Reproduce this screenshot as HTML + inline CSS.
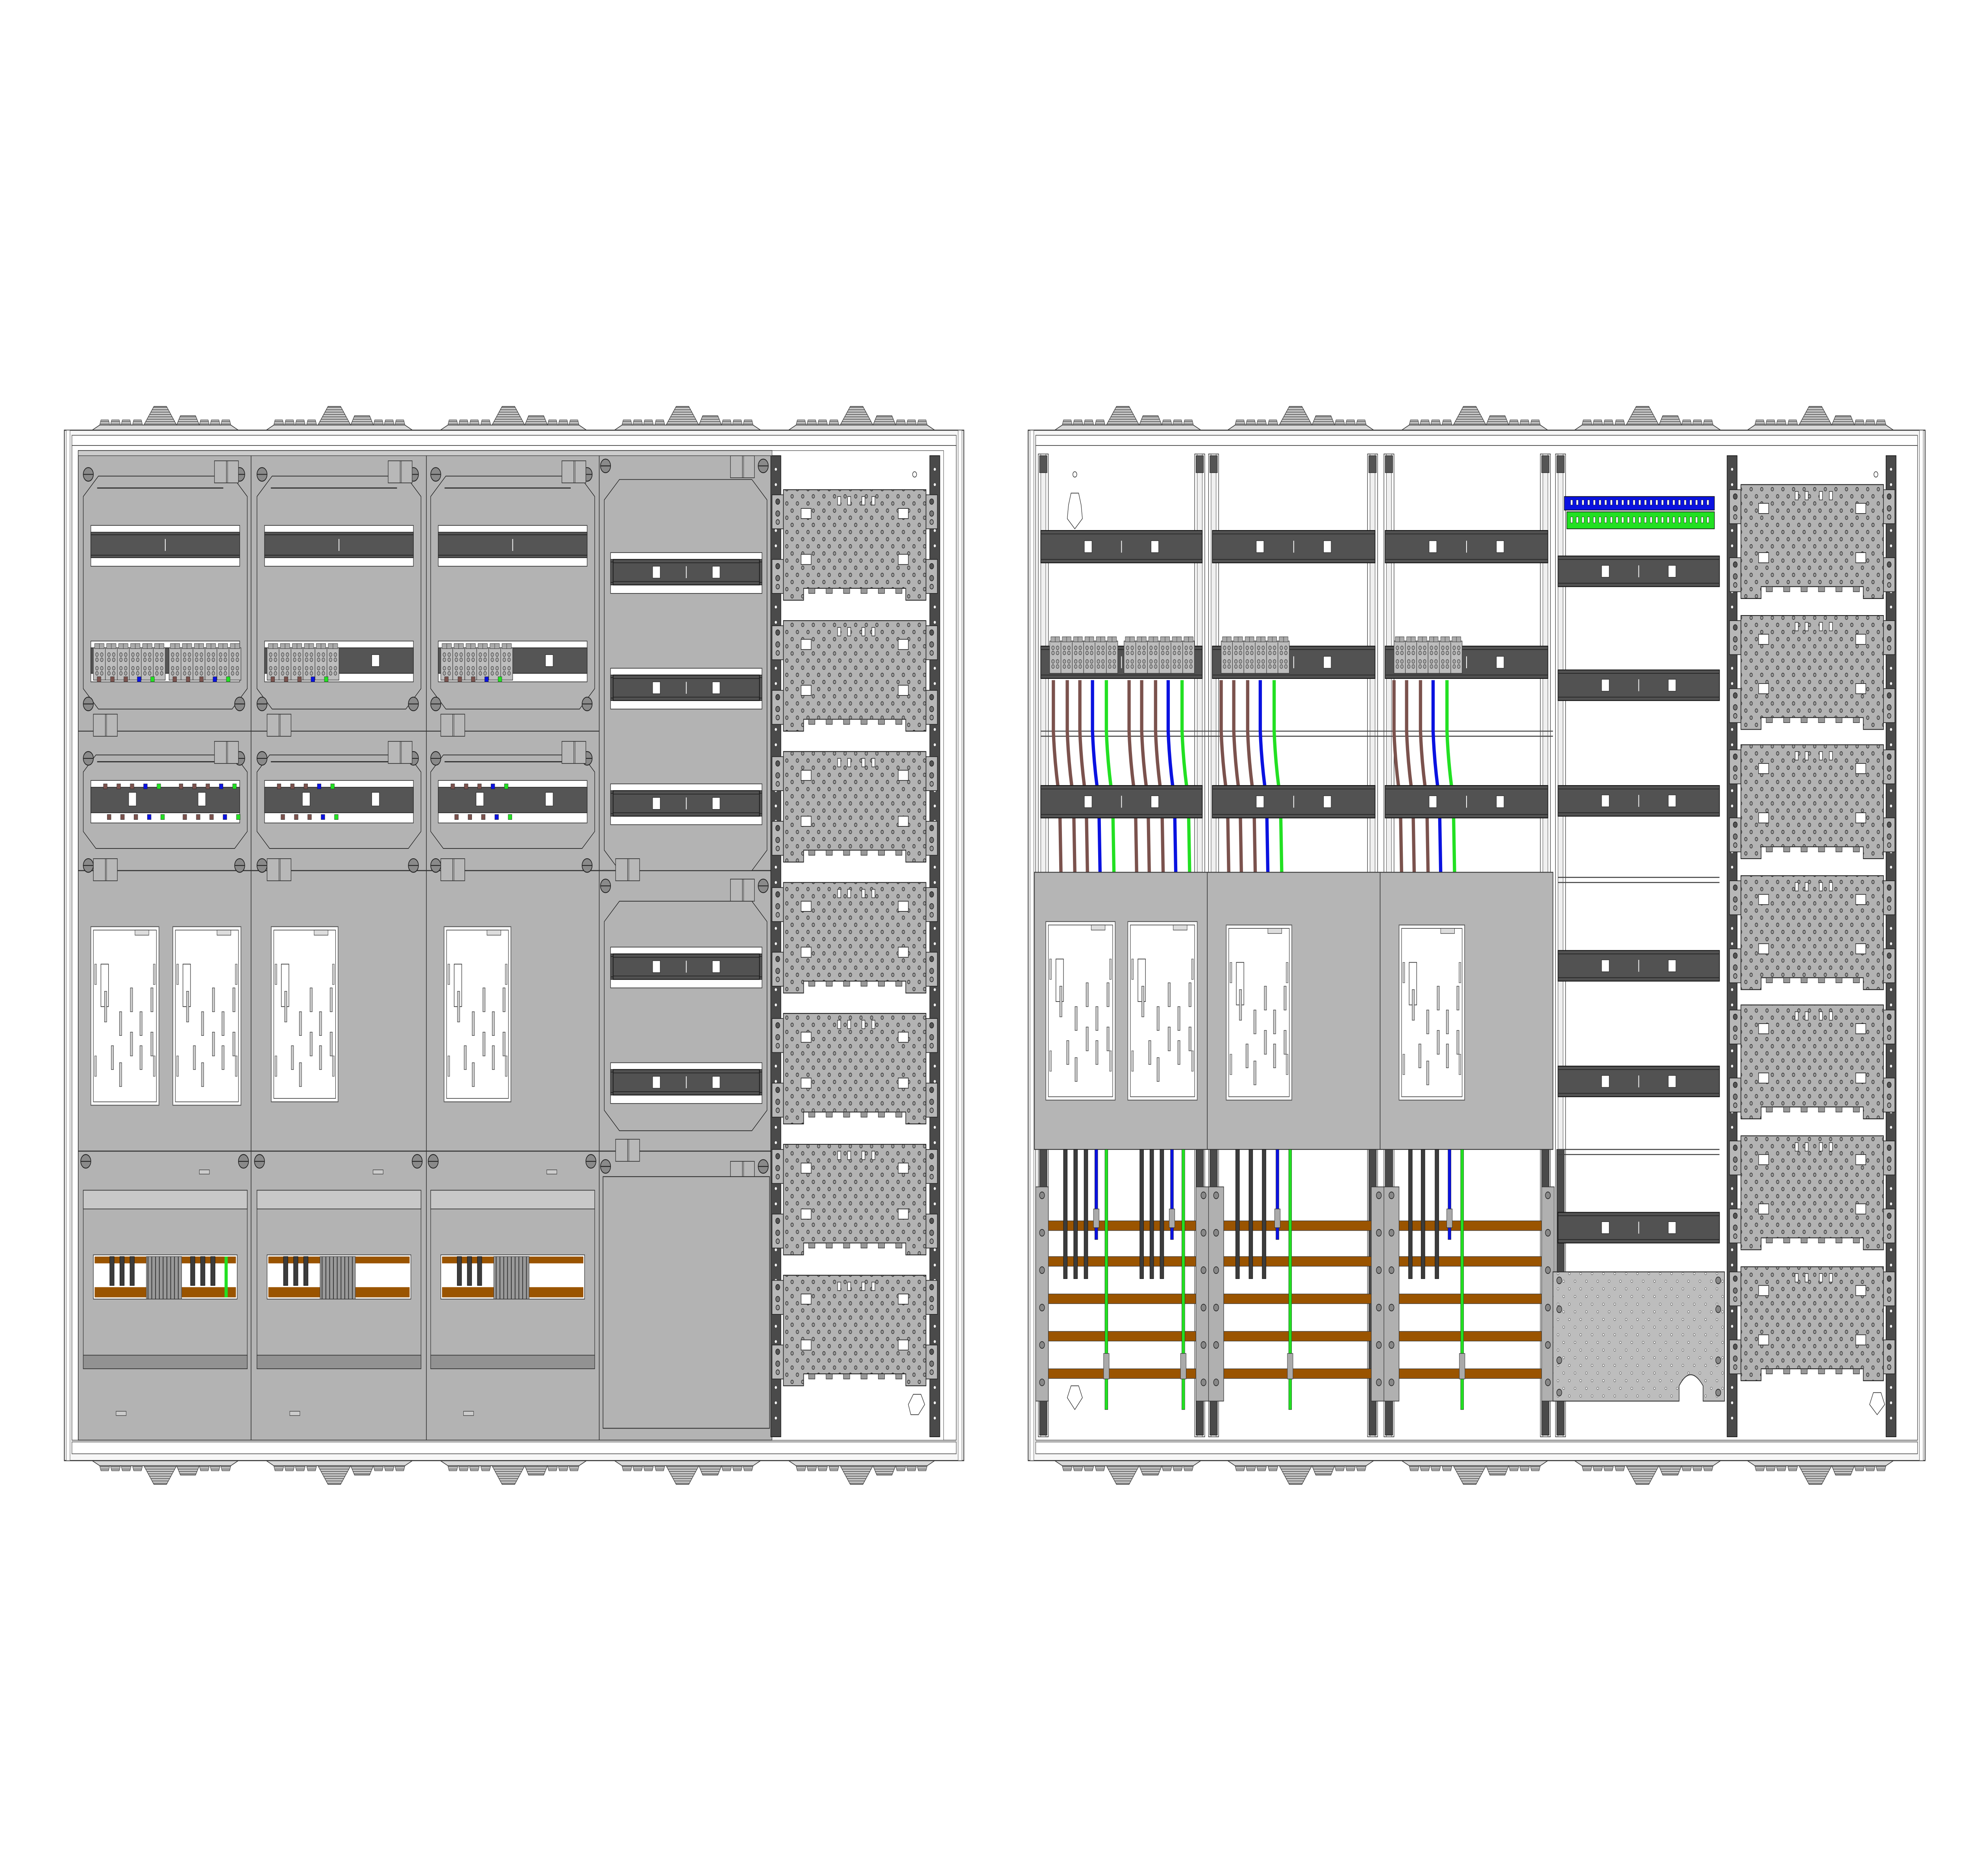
<!DOCTYPE html>
<html><head><meta charset="utf-8"><style>
html,body{margin:0;padding:0;background:#fff;width:100%;height:100%;overflow:hidden;}
svg{display:block;width:100vw;height:100vh;}
</style></head><body>
<svg id="s" xmlns="http://www.w3.org/2000/svg" viewBox="0 0 1560 1103.3" preserveAspectRatio="none">
<defs>
<pattern id="holes" patternUnits="userSpaceOnUse" width="8.4" height="8.4">
<rect width="8.4" height="8.4" fill="#b3b3b3"/>
<circle cx="2.1" cy="2.1" r="1.05" fill="#9a9a9a" stroke="#222" stroke-width="0.35"/>
<circle cx="6.3" cy="6.3" r="1.05" fill="#9a9a9a" stroke="#222" stroke-width="0.35"/>
</pattern>
<pattern id="holes2" patternUnits="userSpaceOnUse" width="9" height="9">
<rect width="9" height="9" fill="#bdbdbd"/>
<circle cx="2" cy="2" r="0.7" fill="#fff" stroke="#444" stroke-width="0.25"/>
<circle cx="6.5" cy="6.5" r="0.7" fill="#fff" stroke="#444" stroke-width="0.25"/>
</pattern>
<pattern id="stripe" patternUnits="userSpaceOnUse" width="3" height="3">
<rect width="3" height="3" fill="#999"/>
<rect x="0" y="0" width="0.6" height="3" fill="#333"/>
</pattern>
<pattern id="hstripe" patternUnits="userSpaceOnUse" width="4" height="1.4">
<rect width="4" height="1.4" fill="#c8c8c8"/>
<rect width="4" height="0.35" fill="#444"/>
</pattern>
</defs>
<g id="g"></g>
</svg>
<script>
var o=[];
function R(x,y,w,h,f,s,sw){o.push('<rect x="'+x+'" y="'+y+'" width="'+w+'" height="'+h+'" fill="'+(f||'none')+'" stroke="'+(s||'none')+'" stroke-width="'+(sw||0.4)+'"/>');}
function L(x1,y1,x2,y2,s,sw){o.push('<line x1="'+x1+'" y1="'+y1+'" x2="'+x2+'" y2="'+y2+'" stroke="'+(s||'#222')+'" stroke-width="'+(sw||0.4)+'"/>');}
function C(x,y,r,f,s,sw){o.push('<circle cx="'+x+'" cy="'+y+'" r="'+r+'" fill="'+(f||'none')+'" stroke="'+(s||'#222')+'" stroke-width="'+(sw||0.4)+'"/>');}
function P(pts,f,s,sw){o.push('<polygon points="'+pts+'" fill="'+(f||'none')+'" stroke="'+(s||'#222')+'" stroke-width="'+(sw||0.4)+'"/>');}
function PL(d,s,sw){o.push('<path d="'+d+'" fill="none" stroke="'+s+'" stroke-width="'+sw+'" stroke-linecap="butt"/>');}

function gland(c,y,d){
  P((c-58)+','+y+' '+(c-52)+','+(y+d*3)+' '+(c+52)+','+(y+d*3)+' '+(c+58)+','+y,'#d8d8d8','#333',0.4);
  var sm=[-48,-39.5,-31,-22,31,39.5,48];
  sm.forEach(function(dx){var x=c+dx;var y0=y+d*3;var y1=y+d*6;
    P((x-4)+','+y0+' '+(x+4)+','+y0+' '+(x+3)+','+y1+' '+(x-3)+','+y1,'url(#hstripe)','#333',0.3);});
  var x=c-4,y0=y+d*3,y1=y+d*14;
  P((x-13)+','+y0+' '+(x+13)+','+y0+' '+(x+5)+','+y1+' '+(x-5)+','+y1,'url(#hstripe)','#333',0.35);
  x=c+18;y1=y+d*8.5;
  P((x-9)+','+y0+' '+(x+9)+','+y0+' '+(x+6)+','+y1+' '+(x-6)+','+y1,'url(#hstripe)','#333',0.35);
}
function frame(x0,x1){
  R(x0,253,x1-x0,606,'#f7f7f7','#333',0.6);
  R(x0+1.5,253,3,606,'#fff','#555',0.3);
  R(x1-4.5,253,3,606,'#fff','#555',0.3);
  R(x0+6,256,x1-x0-12,6,'#fff','#555',0.4);
  R(x0+6,262,x1-x0-12,585,'#fff','#444',0.4);
  R(x0+6,848,x1-x0-12,7,'#fff','#555',0.4);
}
function plate(x,y,w,h){
  [[x-9,y+3],[x-9,y+h-24],[x+w,y+3],[x+w,y+h-24]].forEach(function(t){
    R(t[0],t[1],9,20,'#b8b8b8','#222',0.4);C(t[0]+4.5,t[1]+4,1.6,'#555');C(t[0]+4.5,t[1]+11,1.6,'#777');C(t[0]+4.5,t[1]+16,1.4,'#999');});
  P(x+','+y+' '+(x+w)+','+y+' '+(x+w)+','+(y+h)+' '+(x+w-16)+','+(y+h)+' '+(x+w-16)+','+(y+h-7)+' '+(x+16)+','+(y+h-7)+' '+(x+16)+','+(y+h)+' '+x+','+(y+h),'url(#holes)','#222',0.5);
  [[x+14,y+11],[x+w-22,y+11],[x+14,y+h-27],[x+w-22,y+h-27]].forEach(function(q){R(q[0],q[1],8,6,'#fff','#222',0.4);});
  [0.38,0.45,0.55,0.62].forEach(function(f){R(x+w*f,y+4,2.5,5,'#fff','#222',0.35);});
  for(var i=0;i<6;i++){R(x+20+i*(w-44)/5,y+h-7,5,3,'#999','#222',0.3);}
}
function vrail(x,y0,y1){R(x,y0,8,y1-y0,'#4a4a4a','#111',0.4);for(var y=y0+8;y<y1-8;y+=9){C(x+4,y,0.8,'#fff','#fff',0.1);}}
function dinrail(x,y,w,col){
  R(x,y,w,24,'#fff','#333',0.4);R(x,y+4,w,15,col||'#555','#222',0.4);
  L(x,y+5.5,x+w,y+5.5,'#222',0.4);L(x,y+17.5,x+w,y+17.5,'#222',0.4);
  L(x+w/2,y+8,x+w/2,y+15,'#fff',0.6);
}
function darkrail(x,y,w,h){
  h=h||19;R(x,y,w,h,'#525252','#111',0.5);L(x,y+2,x+w,y+2,'#222',0.4);L(x,y+h-2,x+w,y+h-2,'#222',0.4);
  R(x+w*0.27,y+h/2-3.5,6,7,'#fff','#222',0.3);R(x+w*0.73-6,y+h/2-3.5,6,7,'#fff','#222',0.3);L(x+w/2,y+h/2-3.5,x+w/2,y+h/2+3.5,'#fff',0.6);
}
function terms(x,y,n,w){for(var i=0;i<n;i++){var xx=x+i*w;R(xx,y,w,19,'#bdbdbd','#333',0.35);R(xx+1,y-2.5,w/2-1,3,'#aaa','#333',0.25);R(xx+w/2,y-2.5,w/2-1,3,'#aaa','#333',0.25);
  [[0.3,4],[0.7,4],[0.3,7],[0.7,7],[0.3,12],[0.7,12],[0.3,15],[0.7,15]].forEach(function(p){C(xx+w*p[0],y+p[1],1.1,'#aaa','#333',0.3);});}}
function screw(x,y){C(x,y,4,'#8a8a8a','#222',0.5);L(x-4,y,x+4,y,'#222',0.5);}
function meterwin(x,y,w,h){R(x,y,w,h,'#fff','#555',0.5);R(x+2,y+2,w-4,h-4,'#fff','#444',0.4);R(x+w-19,y+2,11,3,'#ddd','#333',0.3);
  R(x+8,y+22,6,25,'none','#333',0.4);
  [[0.2,38,18],[0.42,50,14],[0.58,36,14],[0.72,50,14],[0.58,62,14],[0.3,70,14],[0.72,70,14],[0.42,80,14],[0.88,36,14],[0.88,62,14]].forEach(function(s){R(x+w*s[0],y+s[1],1.8,s[2],'#ccc','#333',0.3);});
  R(x+3,y+22,1.5,12,'#ccc','#444',0.25);R(x+w-4.5,y+22,1.5,12,'#ccc','#444',0.25);R(x+3,y+76,1.5,12,'#ccc','#444',0.25);R(x+w-4.5,y+76,1.5,12,'#ccc','#444',0.25);
}
function oct(x,y,w,h,c){var c2=c||10;P((x+c2)+','+y+' '+(x+w-c2)+','+y+' '+(x+w)+','+(y+c2)+' '+(x+w)+','+(y+h-c2)+' '+(x+w-c2)+','+(y+h)+' '+(x+c2)+','+(y+h)+' '+x+','+(y+h-c2)+' '+x+','+(y+c2),'#b3b3b3','#222',0.4);}
function hinge(x,y){R(x,y,19,13,'#b8b8b8','#333',0.4);L(x+9.5,y,x+9.5,y+13,'#333',0.4);L(x+10.5,y,x+10.5,y+13,'#333',0.3);}
function stubs(x,y,cols){cols.forEach(function(c,i){if(c)R(x+i*5.3,y,3,3,c,'#222',0.2);});}

var BR='#7b524d',BL='#0a12e0',GR='#22e022',DK='#3c3c3c',CU='#9a5400';

[131,269,407,545,683].forEach(function(c){gland(c,253,-1);gland(c,859,1);});
frame(51,764);
R(62,265,550,582,'#b3b3b3','#333',0.5);
[199,338,475].forEach(function(x){L(x,265,x,847,'#333',0.5);});
L(62,430,475,430,'#333',0.5);L(62,512,612,512,'#333',0.6);L(62,677,612,677,'#333',0.6);
[0,1,2].forEach(function(i){
  var x=62+i*137.7;
  oct(x+4,280,130,137,12);
  L(x+15,287,x+115,287,'#222',0.6);
  dinrail(x+10,309,118);
  R(x+10,377,118,24,'#fff','#333',0.4);R(x+10,381,118,15,'#555','#222',0.4);
  oct(x+4,444,130,55,10);
  L(x+15,448,x+115,448,'#222',0.6);
  R(x+10,459,118,25,'#fff','#333',0.4);R(x+10,463,118,15,'#555','#222',0.4);
  R(x+40,466,6,8,'#fff','#222',0.3);
  R(x+95,466,6,8,'#fff','#222',0.3);
  screw(x+8,279);screw(x+128,279);screw(x+8,414);screw(x+128,414);
  screw(x+8,446);screw(x+128,446);screw(x+8,509);screw(x+128,509);
  hinge(x+108,271);hinge(x+12,420);hinge(x+108,436);hinge(x+12,505);
  var sc=[BR,null,BR,null,BR,null,BL,null,GR];
  if(i==0){terms(x+12,381,6,9.5);terms(x+72,381,6,9.5);stubs(x+15,398,sc);stubs(x+75,398,sc);
    stubs(x+20,461,sc);stubs(x+80,461,sc);stubs(x+23,479,sc);stubs(x+83,479,sc);}
  else{terms(x+12,381,6,9.5);R(x+95,385,6,7,'#fff','#222',0.3);stubs(x+15,398,sc);
    stubs(x+20,461,sc);stubs(x+23,479,sc);}
  screw(x+6,683);screw(x+131,683);R(x+96,688,8,2.5,'#ccc','#333',0.3);
  R(x+4,700,130,105,'#b3b3b3','#333',0.4);R(x+4,700,130,11,'#c8c8c8','#333',0.4);R(x+4,797,130,8,'#929292','#333',0.4);
  R(x+12,738,114,26,'#fff','#333',0.4);R(x+13,739,112,4,CU);R(x+13,757,112,6,CU);
  R(x+54,739,28,25,'url(#stripe)','#333',0.3);
  [x+25,x+33,x+41].forEach(function(xx){R(xx,739,3.5,17,DK,'#111',0.3);});
  if(i==0){[x+89,x+97,x+105].forEach(function(xx){R(xx,739,3.5,17,DK,'#111',0.3);});R(x+116,739,2.5,24,GR);}
  R(x+30,830,8,2.5,'#ccc','#333',0.3);
});
meterwin(72,545,54,105);meterwin(137,545,54,105);meterwin(215,545,53,103);meterwin(352,545,53,103);
oct(479,282,129,230,12);dinrail(484,325,120);dinrail(484,393,120);dinrail(484,461,120);
darkrail(486,329,116,15);darkrail(486,397,116,15);darkrail(486,465,116,15);
oct(479,530,129,135,12);dinrail(484,557,120);dinrail(484,625,120);
darkrail(486,561,116,15);darkrail(486,629,116,15);
screw(480,274);screw(605,274);screw(480,521);screw(605,521);screw(480,686);screw(605,686);
hinge(579,268);hinge(579,517);hinge(488,670);hinge(579,683);hinge(488,505);
R(478,692,132,148,'#b3b3b3','#333',0.5);
R(612,265,136,582,'#fff','#444',0.3);
vrail(611,268,845);vrail(737,268,845);
C(725,279,1.6,'#fff','#333',0.4);
[288,365,442,519,596,673,750].forEach(function(y){plate(621,y,113,65);});
P('724,820 730,820 733,826 728,832 722,832 720,826','#fff','#333',0.4);
R(62,265,550,3,'#ccc','#333',0.3);

[894,1031,1169,1306,1443].forEach(function(c){gland(c,253,-1);gland(c,859,1);});
frame(815,1526);
[823,947,958,1084,1097,1221,1233].forEach(function(v){
  R(v,267,8,578,'#fff','#333',0.4);R(v+2,267,4,578,'#f0f0f0','#444',0.3);R(v+1,268,6,10,'#555','#222',0.3);
  R(v+1,676,6,168,'#4a4a4a','#111',0.3);});
C(852,279,1.6,'#fff','#333',0.4);
P('849,290 855,290 857,297 858,305 852,311 846,305 847,297','#fff','#333',0.4);
[[825,128],[961,129],[1098,129]].forEach(function(r){darkrail(r[0],312,r[1],19);darkrail(r[0],380,r[1],19);darkrail(r[0],462,r[1],19);});
L(825,430,1231,430,'#444',0.6);L(825,433,1231,433,'#444',0.6);
terms(832,377,6,9);terms(891,377,6,9.3);terms(968,377,6,9);terms(1105,377,6,9);
function wire(x,c,dx){PL('M'+x+' 400 L'+x+' 430 Q'+(x+1)+' 450 '+(x+dx)+' 470 L'+(x+dx+1)+' 513',c,2.6);}
[[835,846,856,866,877],[895,905,916,926,937],[968,978,989,999,1010],[1105,1115,1126,1136,1147]].forEach(function(g){
  g.forEach(function(x,i){wire(x,i<3?BR:(i==3?BL:GR),5);});});
[[825,128],[961,129],[1098,129]].forEach(function(r){darkrail(r[0],462,r[1],19);});
R(820,513,411,163,'#b5b5b5','#333',0.5);L(957,513,957,676,'#333',0.5);L(1094,513,1094,676,'#333',0.5);
meterwin(829,542,55,105);meterwin(894,542,55,105);meterwin(972,544,52,103);meterwin(1109,544,52,103);
[718,739,761,783,805].forEach(function(y){R(828,y,396,5.7,CU,'#333',0.3);});
[[844.5,852.6,860.8,869,877],[905,913,921,929,938],[981,991.5,1002,1012.6,1022.7],[1118,1128,1139,1149,1159]].forEach(function(g){
  for(var i=0;i<3;i++)R(g[i]-1.5,676,3,76,DK,'#111',0.3);
  R(g[3]-1.2,676,2.4,53,BL,'#111',0.2);R(g[3]-2.2,711,4.4,11,'#aaa','#333',0.3);
  R(g[4]-1.2,676,2.4,153,GR,'#111',0.2);R(g[4]-2.2,796,4.4,15,'#aaa','#333',0.3);});
[[821,10],[948,12],[958,12],[1087,12],[1097,12],[1222,10]].forEach(function(b){
  R(b[0],698,b[1],126,'#b0b0b0','#333',0.4);for(var y=703;y<824;y+=22){C(b[0]+b[1]/2,y,2,'#888','#222',0.4);}});
P('849,815 855,815 858,822 852,829 846,822','#fff','#333',0.4);
R(1240,292,119,8,BL,'#111',0.4);R(1242,301,117,10,GR,'#111',0.4);
for(var x=1245;x<1357;x+=4.5){R(x,294,1.6,3,'#fff','#111',0.2);R(x,304,1.6,3.5,'#fff','#111',0.2);}
[327,394,462,559,627,713].forEach(function(y){darkrail(1235,y,128,18);});
L(1235,516,1363,516,'#444',0.6);L(1235,519,1363,519,'#444',0.6);
L(1235,676,1363,676,'#444',0.6);L(1235,679,1363,679,'#444',0.6);
o.push('<path d="M1231 748 L1367 748 L1367 824 L1350 824 L1350 815 Q1340 802 1331 815 L1331 824 L1231 824 Z" fill="url(#holes2)" stroke="#333" stroke-width="0.5"/>');
[[1236,753],[1362,753],[1236,819],[1362,819],[1236,770],[1362,770],[1236,800],[1362,800]].forEach(function(p){C(p[0],p[1],2,'#888','#222',0.4);});
vrail(1369,268,845);vrail(1495,268,845);
C(1487,279,1.6,'#fff','#333',0.4);
[285,362,438,515,591,668,745].forEach(function(y){plate(1380,y,113,67);});
P('1485,819 1491,819 1494,826 1488,832 1482,826','#fff','#333',0.4);

document.getElementById('g').innerHTML=o.join('');
</script>
</body></html>
